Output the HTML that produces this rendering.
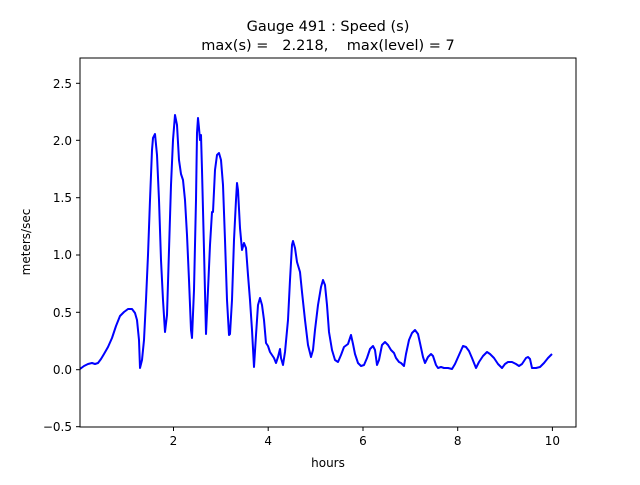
<!DOCTYPE html>
<html><head><meta charset="utf-8"><style>body{margin:0;background:#fff}</style></head><body>
<svg width="640" height="480" xmlns="http://www.w3.org/2000/svg" font-family="DejaVu Sans, Liberation Sans, sans-serif">
<rect width="640" height="480" fill="#fff"/>
<g font-size="14.5" text-anchor="middle" fill="#000">
<text x="328" y="31">Gauge 491 : Speed (s)</text>
<text x="328" y="50" xml:space="preserve">max(s) =   2.218,    max(level) = 7</text>
</g>
<defs><clipPath id="c"><rect x="80" y="58" width="496" height="369"/></clipPath></defs>
<polyline clip-path="url(#c)" fill="none" stroke="#0000ff" stroke-width="2" stroke-linejoin="round" points="80,369 84,366 88,364 92,363 95,364 98,363 101,359 104,354 108,347 112,338 116,326 120,316 124,312 128,309 132,309 135,313 137,320 139,340 140,368 142,360 144,340 146,300 148,255 150,200 152,150 153,138 155,134 157,155 159,200 161,260 163,300 165,332 167,315 169,250 171,185 173,140 175,115 177,125 179,160 181,174 183,180 185,200 187,235 189,280 191,330 192,338 194,290 196,200 197,133 198,118 199,128 200,140 201,135 202,170 204,250 206,334 208,290 210,245 212,212 213,212 215,170 217,155 219,153 221,160 223,185 225,240 227,300 229,335 230,334 232,300 234,240 236,200 237,183 238,190 240,228 242,250 244,243 246,248 248,275 250,300 252,330 254,367 256,335 258,305 260,298 262,305 264,320 266,343 268,346 270,352 272,355 274,358 276,363 278,357 280,349 281,358 283,365 285,352 288,320 290,280 292,245 293,241 295,248 297,262 300,272 302,292 305,320 308,345 311,357 313,350 315,330 318,305 321,287 323,280 325,285 327,305 329,332 332,350 335,360 338,362 341,355 344,347 348,344 351,335 353,344 355,354 358,363 361,366 364,365 367,358 370,349 373,346 375,350 377,365 379,360 382,345 385,342 388,345 391,350 394,353 396,358 399,362 401,363 404,366 406,354 409,340 412,333 415,330 418,334 420,343 423,357 425,363 428,357 431,354 433,356 436,365 438,368 441,367 444,368 448,368 452,369 455,364 459,355 463,346 466,347 469,351 472,358 476,368 479,362 483,356 487,352 490,354 494,358 498,364 502,368 505,364 508,362 512,362 516,364 519,366 522,364 526,358 528,357 530,359 532,368 536,368 540,367 544,363 548,358 552,354"/>
<rect x="80" y="58" width="496" height="369" fill="none" stroke="#000" stroke-width="1"/>
<g stroke="#000" stroke-width="1">
<line x1="173.5" y1="427" x2="173.5" y2="431"/><line x1="268.2" y1="427" x2="268.2" y2="431"/><line x1="363" y1="427" x2="363" y2="431"/><line x1="457.7" y1="427" x2="457.7" y2="431"/><line x1="552.4" y1="427" x2="552.4" y2="431"/>
<line x1="76" y1="426.7" x2="80" y2="426.7"/><line x1="76" y1="369.7" x2="80" y2="369.7"/><line x1="76" y1="312.3" x2="80" y2="312.3"/><line x1="76" y1="255" x2="80" y2="255"/><line x1="76" y1="197.7" x2="80" y2="197.7"/><line x1="76" y1="140.3" x2="80" y2="140.3"/><line x1="76" y1="83.3" x2="80" y2="83.3"/>
</g>
<g font-size="12" text-anchor="middle" fill="#000">
<text x="173.5" y="445">2</text><text x="268.2" y="445">4</text><text x="363" y="445">6</text><text x="457.7" y="445">8</text><text x="552.4" y="445">10</text>
<text x="328" y="467">hours</text>
</g>
<g font-size="12" text-anchor="end" fill="#000">
<text x="72" y="431">−0.5</text><text x="72" y="374">0.0</text><text x="72" y="317">0.5</text><text x="72" y="259">1.0</text><text x="72" y="202">1.5</text><text x="72" y="145">2.0</text><text x="72" y="88">2.5</text>
</g>
<text font-size="12" text-anchor="middle" transform="translate(30,242) rotate(-90)">meters/sec</text>
</svg>
</body></html>
